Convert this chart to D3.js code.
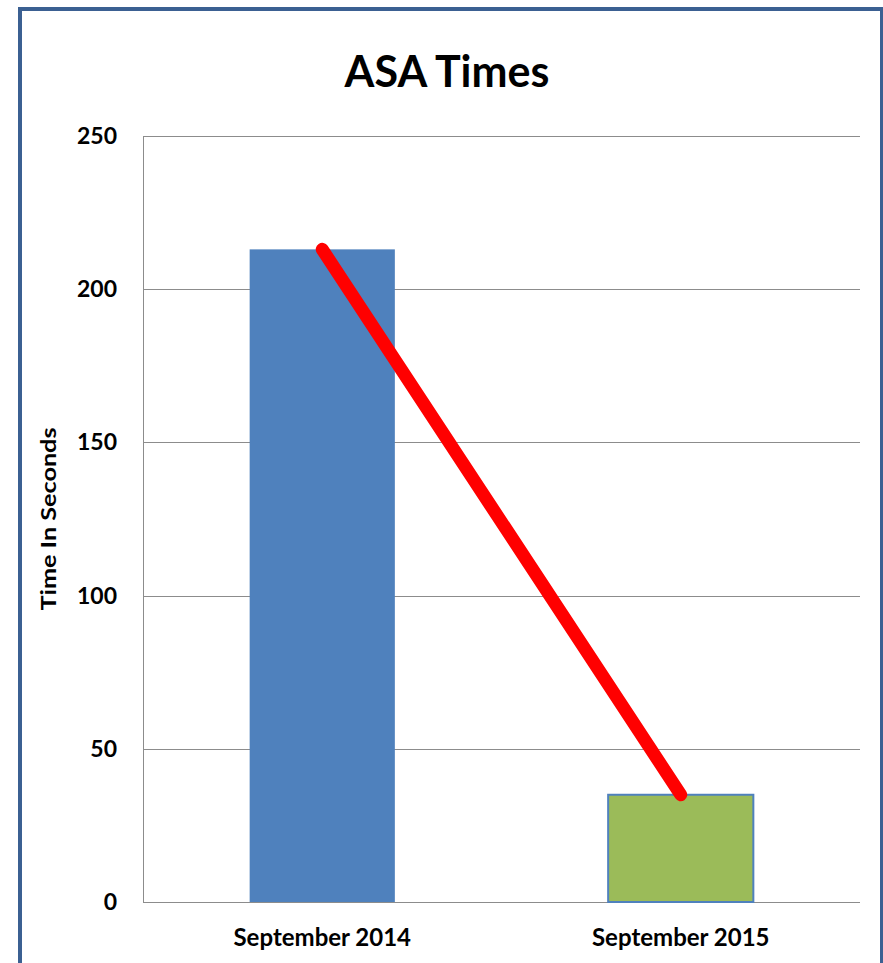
<!DOCTYPE html>
<html>
<head>
<meta charset="utf-8">
<script src="https://cdnjs.cloudflare.com/ajax/libs/d3/7.8.5/d3.min.js"></script>
<style>
  body { margin: 0; background: #fff; }
  text { font-family: Lato, "Open Sans", sans-serif; font-weight: bold; fill: #000; }
</style>
</head>
<body>
<script>
// chart data
var categories = ["September 2014", "September 2015"];
var values = [213, 35];
var barColors = ["#4F81BD", "#9BBB59"];
var yTicks = [0, 50, 100, 150, 200, 250];
var chartTitle = "ASA Times";
var yLabel = "Time In Seconds";

var W = 883, H = 963;
var margin = {left: 143, right: 23, top: 136, bottom: 61};

var svg = d3.select("body").append("svg")
	.attr("width", W).attr("height", H);

// the blue frame round the chart
svg.append("path")
	.attr("d", "M20,963 L20,9 L882,9 L882,963")
	.attr("fill", "none")
	.attr("stroke", "#3B6092")
	.attr("stroke-width", 4);

var x = d3.scaleBand()
	.domain(categories)
	.range([margin.left, W - margin.right])
	.padding(0);

var y = d3.scaleLinear()
	.domain([0, 250])
	.range([H - margin.bottom, margin.top]);

var barW = x.bandwidth() * 0.405;

// gridlines
svg.append("g").selectAll("line")
	.data(yTicks)
	.enter().append("line")
	.attr("x1", margin.left).attr("x2", W - margin.right)
	.attr("y1", function(d) { return Math.round(y(d)) + 0.5; })
	.attr("y2", function(d) { return Math.round(y(d)) + 0.5; })
	.attr("stroke", "#8c8c8c")
	.attr("stroke-width", 1);

// left axis line
svg.append("line")
	.attr("x1", margin.left + 0.5).attr("x2", margin.left + 0.5)
	.attr("y1", y(250)).attr("y2", y(0))
	.attr("stroke", "#8c8c8c");

// y tick labels
svg.append("g").selectAll("text")
	.data(yTicks)
	.enter().append("text")
	.attr("x", 117)
	.attr("y", function(d) { return y(d) + 8; })
	.attr("text-anchor", "end")
	.style("font-size", "23px")
	.text(function(d) { return d; });

// bars
svg.append("g").selectAll("rect")
	.data(values)
	.enter().append("rect")
	.attr("x", function(d, i) { return x(categories[i]) + (x.bandwidth() - barW) / 2; })
	.attr("y", function(d) { return y(d); })
	.attr("width", barW)
	.attr("height", function(d) { return y(0) - y(d); })
	.attr("fill", function(d, i) { return barColors[i]; })
	.attr("stroke", "#4F81BD")
	.attr("stroke-width", function(d, i) { return i == 0 ? 0 : 2; });

// category labels
svg.append("g").selectAll("text")
	.data(categories)
	.enter().append("text")
	.attr("x", function(d) { return x(d) + x.bandwidth() / 2; })
	.attr("y", 946)
	.attr("text-anchor", "middle")
	.style("font-size", "24px")
	.text(function(d) { return d; });

// red trend line from bar top to bar top
var line = d3.line()
	.x(function(d, i) { return x(categories[i]) + x.bandwidth() / 2; })
	.y(function(d) { return y(d); });

svg.append("path")
	.datum(values)
	.attr("d", line)
	.attr("fill", "none")
	.attr("stroke", "#FF0000")
	.attr("stroke-width", 13)
	.attr("stroke-linecap", "round");

// title
svg.append("text")
	.attr("x", 447)
	.attr("y", 87)
	.attr("text-anchor", "middle")
	.style("font-size", "43px")
	.text(chartTitle);

// y axis title
svg.append("text")
	.attr("transform", "translate(56," + (y(125)) + ") rotate(-90)")
	.attr("text-anchor", "middle")
	.attr("textLength", 183)
	.attr("lengthAdjust", "spacingAndGlyphs")
	.style("font-size", "21px")
	.text(yLabel);
</script>
</body>
</html>
